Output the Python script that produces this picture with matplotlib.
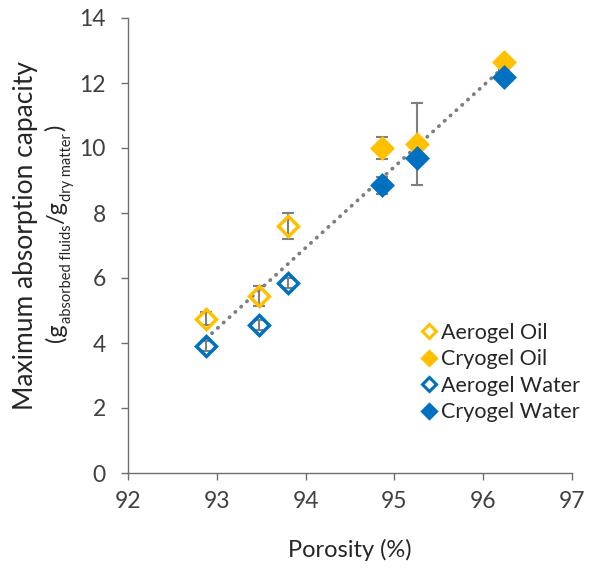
import numpy as np
import matplotlib
matplotlib.use('Agg')
import matplotlib.pyplot as plt

# Data
porosity = [92.88, 93.47, 93.80, 94.86, 95.26, 96.23]
aerogel_porosity = porosity[:3]
cryogel_porosity = porosity[3:]

aerogel_oil = [4.75, 5.45, 7.60]
aerogel_oil_err = [0.20, 0.30, 0.40]
aerogel_water = [3.90, 4.55, 5.85]
aerogel_water_err = [0.15, 0.15, 0.15]
cryogel_oil = [10.00, 10.12, 12.65]
cryogel_oil_err = [0.35, 1.25, 0.10]
cryogel_water = [8.85, 9.70, 12.20]
cryogel_water_err = [0.27, 0.10, 0.20]

plt.rcParams['font.family'] = ['Lato', 'DejaVu Sans']

W, H = 590, 570
fig = plt.figure(figsize=(W / 100, H / 100), dpi=100)
ax = fig.add_axes([128 / W, 1 - 473 / H, 444 / W, 455 / H])

oil_color = '#FFC000'
water_color = '#0070C0'
err_color = '#7F7F7F'
text_color = '#262626'

# Linear trendline over all points
all_x = np.array(porosity * 2)
all_y = np.array(aerogel_oil + cryogel_oil + aerogel_water + cryogel_water)
slope, intercept = np.polyfit(all_x, all_y, 1)
tx = np.array([min(porosity), max(porosity)])
ax.plot(tx, slope * tx + intercept, linestyle=(0, (0.1, 2.0)), color='#7F7F7F',
        linewidth=2.7, dash_capstyle='round', zorder=1)

series = [
    (aerogel_porosity, aerogel_oil, aerogel_oil_err, oil_color, False, 'Aerogel Oil'),
    (cryogel_porosity, cryogel_oil, cryogel_oil_err, oil_color, True, 'Cryogel Oil'),
    (aerogel_porosity, aerogel_water, aerogel_water_err, water_color, False, 'Aerogel Water'),
    (cryogel_porosity, cryogel_water, cryogel_water_err, water_color, True, 'Cryogel Water'),
]

handles = []
for x, y, err, color, filled, label in series:
    ax.errorbar(x, y, yerr=err, fmt='none', ecolor=err_color, elinewidth=1.5,
                capsize=4, capthick=1.5, zorder=2)
    ax.plot(x, y, linestyle='none', marker='D', markersize=10,
            markerfacecolor=color if filled else 'none',
            markeredgecolor=color, markeredgewidth=2.5, zorder=3)
    h, = ax.plot([], [], linestyle='none', marker='D', markersize=7.5,
                 markerfacecolor=color if filled else 'white',
                 markeredgecolor=color, markeredgewidth=2.2, label=label)
    handles.append(h)

ax.set_xlim(92, 97)
ax.set_ylim(0, 14)
ax.set_xticks(range(92, 98))
ax.set_yticks(range(0, 15, 2))

for side in ['top', 'right']:
    ax.spines[side].set_visible(False)
for side in ['left', 'bottom']:
    ax.spines[side].set_color('#6E6E6E')
    ax.spines[side].set_linewidth(1.0)
ax.tick_params(axis='both', colors='#6E6E6E', labelcolor='#404040', labelsize=16.5,
               direction='out', length=5, width=1.0)
ax.tick_params(axis='x', pad=8)
ax.tick_params(axis='y', pad=11)

# x label
ax.set_xlabel('Porosity (%)', fontsize=17, color=text_color)
ax.xaxis.set_label_coords(0.5, (473 - 557) / 455)
ax.xaxis.label.set_va('baseline')

# y label, line 1
y_center = 1 - 236 / H
fig.text(33 / W, y_center, 'Maximum absorption capacity', rotation=90,
         rotation_mode='anchor', ha='center', va='baseline', fontsize=19,
         color=text_color)

# y label, line 2 built from pieces so the subscripts can be small
pieces = [('(g', 17, 0), ('absorbed fluids', 10.5, 8), ('/g', 17, 0),
          ('dry matter', 10.5, 8), ('\u2009)', 17, 0)]
base_x = 63
renderer = fig.canvas.get_renderer()
texts = []
lengths = []
for s, size, drop in pieces:
    t = fig.text((base_x + drop) / W, 0, s, rotation=90, rotation_mode='anchor',
                 ha='left', va='baseline', fontsize=size, color=text_color)
    lengths.append(t.get_window_extent(renderer).height)
    texts.append(t)
total = sum(lengths)
pos = (1 - 233 / H) * H - total / 2
for t, ln in zip(texts, lengths):
    x0 = t.get_position()[0]
    t.set_position((x0, pos / H))
    pos += ln

ax.legend(handles=handles, loc='upper left', bbox_to_anchor=(0.655, 0.33),
          frameon=False, fontsize=15.5, handletextpad=0.15, handlelength=0.9,
          labelspacing=0.3, borderaxespad=0, borderpad=0, labelcolor=text_color)

fig.savefig('out.png', dpi=100)
